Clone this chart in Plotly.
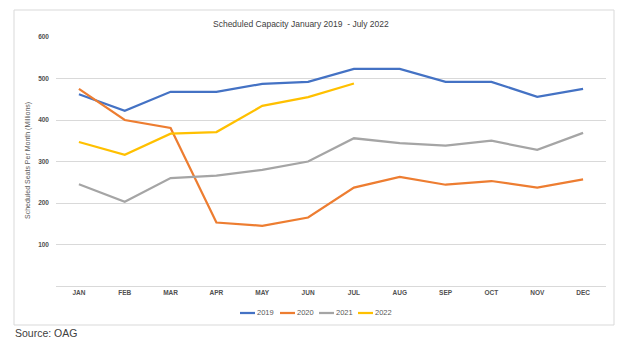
import plotly.graph_objects as go

# Monthly scheduled seats (millions)
months = ["JAN", "FEB", "MAR", "APR", "MAY", "JUN",
          "JUL", "AUG", "SEP", "OCT", "NOV", "DEC"]
seats_2019 = [462, 422, 468, 468, 487, 492, 523, 523, 492, 492, 456, 475]
seats_2020 = [475, 400, 381, 153, 145, 165, 237, 263, 244, 253, 237, 257]
seats_2021 = [245, 203, 260, 266, 280, 300, 356, 344, 338, 350, 328, 369]
seats_2022 = [347, 316, 367, 371, 434, 455, 488]
y_ticks = [100, 200, 300, 400, 500, 600]

series = [
    ("2019", seats_2019, "#4472C4"),
    ("2020", seats_2020, "#ED7D31"),
    ("2021", seats_2021, "#A5A5A5"),
    ("2022", seats_2022, "#FFC000"),
]

W, H = 624, 346
L, R, T, B = 56, 18, 37, 60
PW, PH = W - L - R, H - T - B


def px(x):
    return (x - L) / PW


def py(y):
    return (H - B - y) / PH


FONT = "Liberation Sans"
TXT = "#595959"
TICK = dict(family=FONT, size=6.5, color="#505050", weight="bold")

fig = go.Figure()
for name, vals, color in series:
    fig.add_trace(go.Scatter(
        x=months[:len(vals)], y=vals, mode="lines", name=name,
        line=dict(color=color, width=2.25), showlegend=False,
    ))

shapes = [
    # outer chart frame
    dict(type="rect", xref="paper", yref="paper",
         x0=px(14), x1=px(614), y0=py(325), y1=py(10),
         line=dict(color="#D9D9D9", width=1), layer="below"),
]
annotations = [
    dict(text="Scheduled Capacity January 2019  - July 2022",
         xref="paper", yref="paper", x=px(301), y=py(24),
         showarrow=False, font=dict(family=FONT, size=8.5, color="#404040"),
         xanchor="center", yanchor="middle"),
    dict(text="Scheduled Seats Per Month (Millions)",
         xref="paper", yref="paper", x=px(28), y=py(161),
         showarrow=False, textangle=-90,
         font=dict(family=FONT, size=7, color=TXT),
         xanchor="center", yanchor="middle"),
    dict(text="Source: OAG", xref="paper", yref="paper",
         x=px(13), y=py(333), showarrow=False,
         font=dict(family=FONT, size=10.5, color="#404040"),
         xanchor="left", yanchor="middle"),
]

# legend entries drawn below the plot
legend_x = [240, 280, 319, 358]
for (name, _, color), lx in zip(series, legend_x):
    shapes.append(dict(type="line", xref="paper", yref="paper",
                       x0=px(lx), x1=px(lx + 15), y0=py(313), y1=py(313),
                       line=dict(color=color, width=2.25)))
    annotations.append(dict(text=name, xref="paper", yref="paper",
                            x=px(lx + 15), y=py(312), showarrow=False,
                            font=dict(family=FONT, size=7.5, color=TXT),
                            xanchor="left", yanchor="middle"))

fig.update_layout(
    width=W, height=H,
    margin=dict(l=L, r=R, t=T, b=B),
    paper_bgcolor="white", plot_bgcolor="white",
    shapes=shapes, annotations=annotations,
    xaxis=dict(
        type="category", categoryorder="array", categoryarray=months,
        range=[-0.5, 11.5], showgrid=False, showline=True,
        linecolor="#D9D9D9", linewidth=1, ticks="", ticklen=0,
        tickfont=TICK,
    ),
    yaxis=dict(
        range=[0, 600], tickvals=y_ticks, showgrid=True,
        gridcolor="#D9D9D9", gridwidth=1, zeroline=False,
        ticks="", tickfont=TICK, ticklabelstandoff=6,
    ),
)

fig.write_html("out.html")
